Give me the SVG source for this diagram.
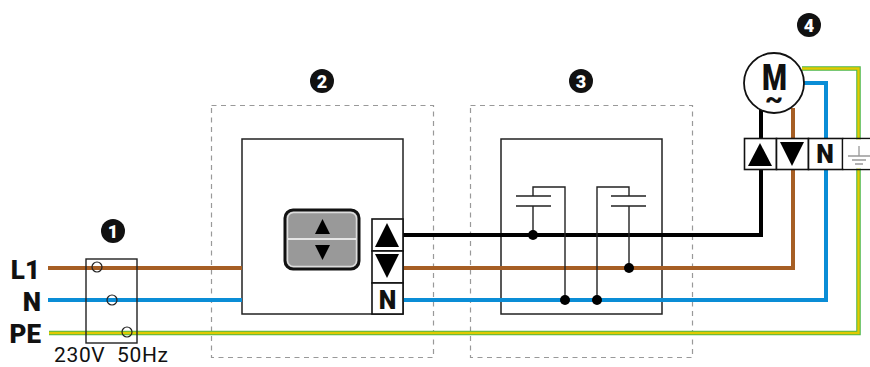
<svg xmlns="http://www.w3.org/2000/svg" width="870" height="367" viewBox="0 0 870 367">
<style>
.t{font-family:"Roboto","Liberation Sans",sans-serif;fill:#111}
.b{font-weight:900}
.dash{fill:none;stroke:#999;stroke-width:1.2;stroke-dasharray:5 4.500}
.box{fill:#fff;stroke:#222;stroke-width:1.5}
.cell{fill:#fff;stroke:#111;stroke-width:1.6}
.w{fill:none;stroke-width:4}
.thin{fill:none;stroke:#222;stroke-width:1.4}
.dot{fill:#000}
.badge{fill:#111}
.num{font-family:"Roboto","Liberation Sans",sans-serif;font-weight:900;font-size:18px;fill:#fff;text-anchor:middle}
.n{font-size:25px;text-anchor:middle}
</style>
<rect width="870" height="367" fill="#fff"/>
<g id="zone2"><rect class="dash" x="211.500" y="105.500" width="222" height="252"/></g>
<g id="zone3"><rect class="dash" x="470.500" y="105.500" width="222" height="252"/></g>
<g id="controller"><rect class="box" x="242" y="139" width="161" height="175"/></g>
<g id="capacitors"><rect class="box" x="501" y="139" width="161" height="175"/></g>
<g id="connectors">
<path class="w" stroke="#a65e24" d="M48 268H242M403 268H793V108"/>
<path class="w" stroke="#0a8dd6" d="M48 300H242M403 300H826V83H800"/>
<path fill="none" stroke="#4cb648" stroke-width="4.500" d="M49 333H858.500V68.500H802"/>
<path fill="none" stroke="#e2ca00" stroke-width="2.400" d="M49 333H858.500V68.500H802"/>
<path class="w" stroke="#000" d="M403 235H761V108"/>
<path class="thin" d="M516 196H551M516 206H551M533 206V235M533 196V187H565V300"/>
<path class="thin" d="M611 196H646M611 206H646M629 206V268M629 196V187H597V300"/>
<circle class="dot" cx="533" cy="235" r="5"/>
<circle class="dot" cx="629" cy="268" r="5"/>
<circle class="dot" cx="565" cy="300" r="5"/>
<circle class="dot" cx="597" cy="300" r="5"/>
</g>
<g id="supply">
<rect fill="none" stroke="#222" stroke-width="1.400" x="86" y="259" width="51" height="84"/>
<circle cx="97" cy="267" r="5" fill="none" stroke="#222" stroke-width="1.200"/>
<circle cx="112" cy="300" r="5" fill="none" stroke="#222" stroke-width="1.200"/>
<circle cx="127" cy="332" r="5" fill="none" stroke="#222" stroke-width="1.200"/>
<text class="t b" x="40" y="279" font-size="26" text-anchor="end">L1</text>
<text class="t b" x="41" y="311" font-size="26" text-anchor="end">N</text>
<text class="t b" x="41" y="343" font-size="26" text-anchor="end">PE</text>
<text class="t" x="54" y="362" font-size="21" textLength="114" style="white-space:pre">230V  50Hz</text>
</g>
<g id="switch">
<rect x="285" y="210" width="74" height="59" rx="8" fill="#999" stroke="#111" stroke-width="3"/>
<rect x="287.500" y="212.500" width="69" height="54" rx="6" fill="none" stroke="#ddd" stroke-width="1.500"/>
<path d="M288 239H356" stroke="#fff" stroke-width="1.500"/>
<path d="M322.500 219L330 234H315Z" fill="#000"/>
<path d="M315 245H330L322.500 260Z" fill="#000"/>
</g>
<g id="controller-terminals">
<rect class="cell" x="372" y="219" width="31" height="32"/>
<rect class="cell" x="372" y="251" width="31" height="32"/>
<rect class="cell" x="372" y="283" width="31" height="31"/>
<path d="M387 223L399 247H375Z" fill="#000"/>
<path d="M375 254H399L387 278Z" fill="#000"/>
<text class="t b n" x="387.500" y="309">N</text>
</g>
<g id="motor">
<circle cx="774" cy="83" r="30" fill="#fff" stroke="#111" stroke-width="1.800"/>
<text class="t b" x="762" y="90" font-size="37" textLength="25" lengthAdjust="spacingAndGlyphs">M</text>
<text class="t b" x="765" y="108" font-size="26" textLength="18" lengthAdjust="spacingAndGlyphs">~</text>
</g>
<g id="motor-terminals">
<rect class="cell" x="744.500" y="138.500" width="32" height="31"/>
<rect class="cell" x="776.500" y="138.500" width="32" height="31"/>
<rect class="cell" x="808.500" y="138.500" width="34" height="31"/>
<path d="M842.500 138.500H870M842.500 169.500H870" stroke="#111" stroke-width="1.600" fill="none"/>
<rect x="843.500" y="139.500" width="26.500" height="29" fill="#fff"/>
<path d="M748 166L760 143L772 166Z" fill="#000"/>
<path d="M780 142H804L792 166Z" fill="#000"/>
<text class="t b n" x="825" y="163">N</text>
<path d="M859 146V156M848 156H870M852 160H866M855 164H863" stroke="#999" stroke-width="1.300" fill="none"/>
</g>
<g id="badge1"><circle class="badge" cx="113" cy="231" r="12"/><text class="num" x="113" y="237.500">1</text></g>
<g id="badge2"><circle class="badge" cx="322" cy="81" r="12"/><text class="num" x="322" y="87.500">2</text></g>
<g id="badge3"><circle class="badge" cx="581" cy="81" r="12"/><text class="num" x="581" y="87.500">3</text></g>
<g id="badge4"><circle class="badge" cx="809" cy="25" r="12"/><text class="num" x="809" y="31.500">4</text></g>
</svg>
